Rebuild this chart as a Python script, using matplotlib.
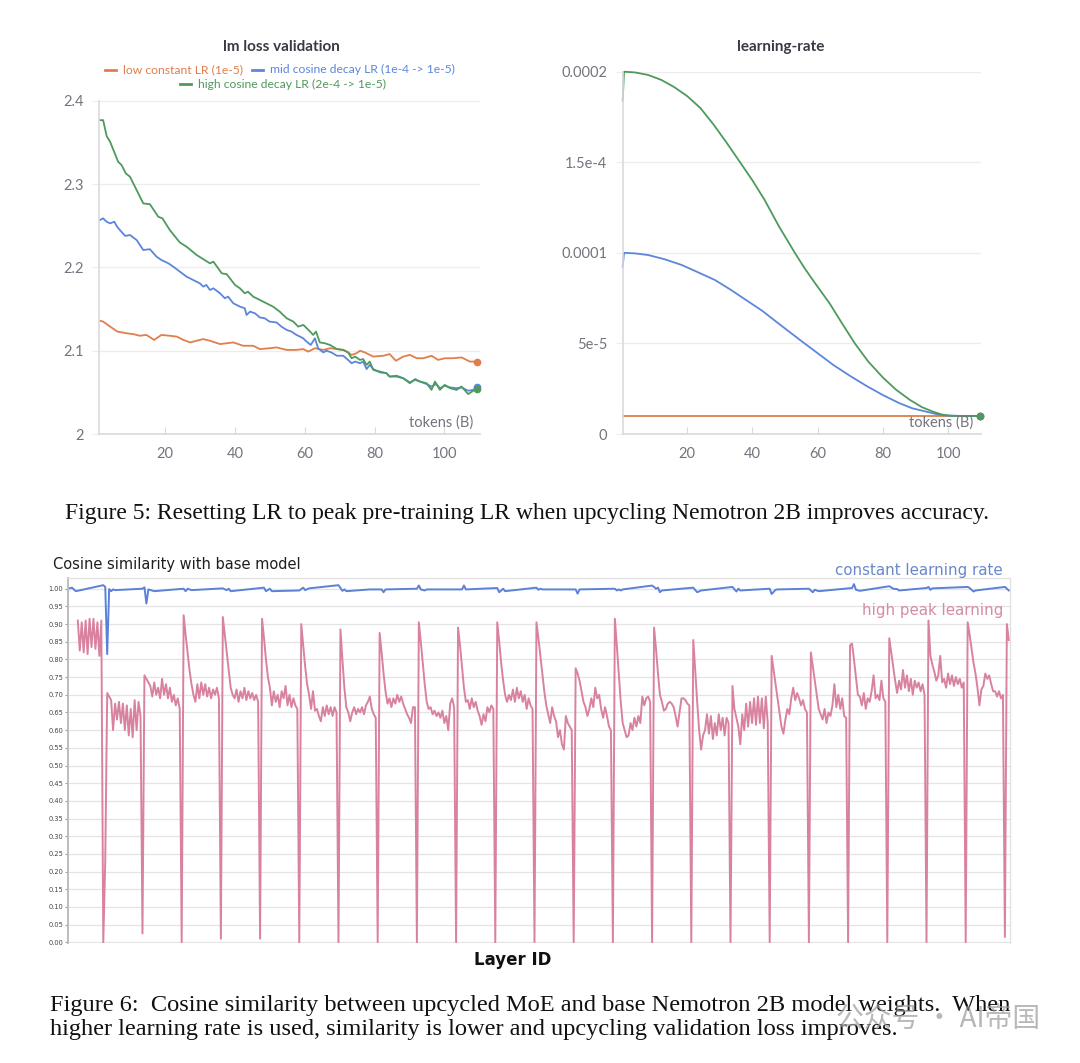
import numpy as np
import matplotlib
matplotlib.use("Agg")
import matplotlib.pyplot as plt
from matplotlib.lines import Line2D

# ---------------- data: lm loss validation (tokens B, loss) ----------------
loss_low = [(1.3, 2.136), (2.2, 2.135), (4.2, 2.129), (6.3, 2.123), (8.9, 2.121), (10.8, 2.120),
            (12.7, 2.118), (14.6, 2.119), (16.8, 2.113), (18.9, 2.119), (21.3, 2.118), (23.3, 2.117),
            (25.2, 2.113), (27.1, 2.110), (29.0, 2.112), (30.9, 2.114), (32.8, 2.112), (35.7, 2.108),
            (37.6, 2.109), (39.5, 2.110), (42.3, 2.106), (45.2, 2.106), (47.1, 2.102), (49.9, 2.103),
            (51.9, 2.104), (54.8, 2.101), (57.6, 2.101), (59.5, 2.102), (61.0, 2.099), (62.9, 2.103),
            (65.3, 2.101), (67.2, 2.103), (69.2, 2.102), (71.0, 2.101), (72.4, 2.098), (73.4, 2.095),
            (74.8, 2.097), (75.8, 2.100), (77.2, 2.098), (79.6, 2.093), (82.5, 2.094), (84.3, 2.096),
            (86.1, 2.088), (88.2, 2.093), (90.1, 2.095), (92.1, 2.091), (94.0, 2.091), (96.3, 2.094),
            (98.2, 2.089), (100.1, 2.091), (102.5, 2.091), (104.9, 2.092), (107.3, 2.087), (109.2, 2.087)]

loss_mid = [(1.3, 2.257), (2.2, 2.259), (3.2, 2.255), (4.2, 2.253), (5.4, 2.255), (6.2, 2.249),
            (7.0, 2.245), (8.5, 2.238), (9.9, 2.239), (11.8, 2.233), (13.7, 2.221), (15.6, 2.222),
            (17.5, 2.213), (18.9, 2.209), (20.9, 2.205), (22.3, 2.201), (24.2, 2.195), (26.1, 2.189),
            (28.0, 2.185), (29.9, 2.181), (30.9, 2.177), (31.8, 2.179), (32.8, 2.173), (33.8, 2.175),
            (35.7, 2.169), (37.1, 2.163), (38.0, 2.165), (39.5, 2.157), (41.4, 2.153), (42.8, 2.151),
            (43.3, 2.143), (44.3, 2.147), (45.7, 2.145), (47.1, 2.140), (48.5, 2.139), (49.9, 2.135),
            (51.9, 2.134), (53.3, 2.129), (54.8, 2.125), (56.2, 2.123), (57.6, 2.119), (58.6, 2.117),
            (59.5, 2.115), (60.5, 2.111), (61.7, 2.107), (62.9, 2.115), (63.8, 2.103), (65.3, 2.098),
            (66.2, 2.100), (67.6, 2.098), (69.2, 2.094), (71.0, 2.094), (72.4, 2.089), (73.4, 2.085),
            (74.4, 2.087), (75.8, 2.085), (76.7, 2.087), (77.7, 2.078), (78.6, 2.083), (79.6, 2.078),
            (81.5, 2.074), (83.4, 2.073), (84.3, 2.069), (86.3, 2.070), (88.2, 2.067), (90.1, 2.062),
            (91.6, 2.065), (93.0, 2.063), (94.9, 2.060), (96.3, 2.057), (97.7, 2.060), (98.7, 2.055),
            (100.1, 2.058), (101.6, 2.056), (103.5, 2.055), (104.9, 2.056), (106.8, 2.052),
            (108.3, 2.053), (109.2, 2.056)]

loss_high = [(1.3, 2.377), (2.2, 2.377), (3.2, 2.358), (4.2, 2.351), (6.5, 2.327), (7.5, 2.323),
             (8.7, 2.313), (9.9, 2.309), (11.8, 2.293), (13.7, 2.277), (15.6, 2.276), (18.0, 2.261),
             (19.2, 2.259), (21.3, 2.245), (24.2, 2.230), (26.1, 2.225), (29.0, 2.215), (30.9, 2.210),
             (32.8, 2.205), (33.8, 2.207), (36.2, 2.193), (37.6, 2.192), (40.0, 2.179), (41.4, 2.175),
             (42.8, 2.169), (43.7, 2.171), (45.2, 2.165), (47.1, 2.161), (49.0, 2.157), (50.9, 2.153),
             (52.8, 2.147), (54.8, 2.139), (56.7, 2.135), (58.1, 2.129), (59.6, 2.131), (61.5, 2.123),
             (62.4, 2.119), (63.2, 2.123), (64.3, 2.110), (65.7, 2.109), (67.2, 2.107), (69.2, 2.102),
             (71.0, 2.101), (72.4, 2.098), (73.4, 2.091), (74.4, 2.093), (75.8, 2.089), (76.7, 2.090),
             (77.7, 2.083), (78.6, 2.087), (79.6, 2.077), (81.5, 2.075), (83.4, 2.073), (84.3, 2.069),
             (86.3, 2.069), (88.2, 2.067), (90.1, 2.061), (91.6, 2.066), (93.0, 2.063), (94.9, 2.061),
             (96.3, 2.053), (97.3, 2.063), (98.7, 2.053), (100.1, 2.059), (101.6, 2.055),
             (103.5, 2.053), (104.9, 2.057), (106.8, 2.048), (108.3, 2.052), (109.2, 2.054)]

legend_labels = ["low constant LR (1e-5)", "mid cosine decay LR (1e-4 -> 1e-5)",
                 "high cosine decay LR (2e-4 -> 1e-5)"]

# ---------------- data: learning-rate ----------------
lr_low = [(0.2, 1.0e-5), (109.7, 1.0e-5)]
lr_mid = [(0.2, 0.924e-4), (0.6, 1.0e-4), (4.0, 0.997e-4), (8.0, 0.988e-4), (13.0, 0.965e-4),
          (18.3, 0.933e-4), (23.0, 0.895e-4), (28.5, 0.85e-4), (33.0, 0.80e-4), (38.0, 0.74e-4),
          (43.0, 0.68e-4), (48.0, 0.61e-4), (54.5, 0.52e-4), (59.7, 0.45e-4), (64.8, 0.381e-4),
          (70.0, 0.32e-4), (75.0, 0.265e-4), (80.0, 0.215e-4), (85.2, 0.169e-4), (89.0, 0.142e-4),
          (93.4, 0.123e-4), (97.0, 0.107e-4), (99.5, 0.102e-4), (103.0, 0.10e-4), (109.7, 0.10e-4)]
lr_high = [(0.2, 1.84e-4), (0.6, 2.0e-4), (4.0, 1.996e-4), (8.0, 1.982e-4), (12.0, 1.955e-4),
           (16.0, 1.915e-4), (20.0, 1.865e-4), (24.0, 1.80e-4), (28.0, 1.71e-4), (32.0, 1.61e-4),
           (36.2, 1.50e-4), (40.0, 1.40e-4), (43.8, 1.29e-4), (48.0, 1.15e-4), (53.0, 1.00e-4),
           (56.0, 0.915e-4), (59.1, 0.835e-4), (63.7, 0.72e-4), (67.5, 0.61e-4), (71.4, 0.50e-4),
           (75.5, 0.40e-4), (80.1, 0.31e-4), (84.0, 0.245e-4), (88.3, 0.188e-4), (92.0, 0.148e-4),
           (95.4, 0.123e-4), (98.0, 0.108e-4), (100.5, 0.101e-4), (103.0, 0.10e-4), (109.7, 0.10e-4)]
lr_ticks = [0, 5e-5, 1e-4, 1.5e-4, 2e-4]
lr_ticklabels = ["0", "5e-5", "0.0001", "1.5e-4", "0.0002"]

# ---------------- data: cosine similarity per parameter tensor ----------------
high_first_idx = 5
high_pre = [0.91, 0.825, 0.905, 0.82, 0.91, 0.815, 0.915, 0.835, 0.915, 0.83, 0.905, 0.81, 0.91]
high_layers = [
    [0.0, 0.23, 0.705, 0.695, 0.685, 0.60, 0.675, 0.63, 0.68, 0.62, 0.675, 0.60, 0.67, 0.585, 0.66, 0.58, 0.685, 0.60, 0.68, 0.64],
    [0.025, 0.755, 0.745, 0.735, 0.725, 0.695, 0.735, 0.70, 0.72, 0.69, 0.745, 0.70, 0.73, 0.69, 0.72, 0.68, 0.70, 0.67, 0.69, 0.66],
    [0.0, 0.925, 0.87, 0.82, 0.77, 0.73, 0.70, 0.68, 0.73, 0.69, 0.735, 0.70, 0.73, 0.695, 0.72, 0.69, 0.715, 0.70, 0.72, 0.69],
    [0.01, 0.92, 0.87, 0.82, 0.77, 0.72, 0.70, 0.69, 0.715, 0.68, 0.71, 0.69, 0.72, 0.685, 0.71, 0.69, 0.705, 0.685, 0.70, 0.68],
    [0.01, 0.915, 0.86, 0.80, 0.75, 0.72, 0.67, 0.71, 0.68, 0.70, 0.665, 0.71, 0.69, 0.725, 0.67, 0.70, 0.665, 0.69, 0.67, 0.66],
    [0.0, 0.90, 0.84, 0.78, 0.73, 0.70, 0.66, 0.71, 0.655, 0.66, 0.64, 0.625, 0.665, 0.64, 0.67, 0.645, 0.665, 0.64, 0.665, 0.65],
    [0.0, 0.885, 0.80, 0.72, 0.665, 0.65, 0.625, 0.65, 0.665, 0.645, 0.66, 0.65, 0.665, 0.645, 0.67, 0.68, 0.695, 0.66, 0.645, 0.635],
    [0.0, 0.875, 0.82, 0.76, 0.71, 0.675, 0.69, 0.665, 0.69, 0.675, 0.70, 0.68, 0.695, 0.675, 0.66, 0.645, 0.635, 0.62, 0.665, 0.665],
    [0.0, 0.905, 0.85, 0.79, 0.73, 0.68, 0.66, 0.665, 0.645, 0.655, 0.64, 0.65, 0.635, 0.655, 0.62, 0.64, 0.60, 0.675, 0.69, 0.665],
    [0.0, 0.89, 0.84, 0.78, 0.72, 0.68, 0.685, 0.66, 0.69, 0.665, 0.68, 0.655, 0.64, 0.615, 0.645, 0.625, 0.665, 0.65, 0.67, 0.66],
    [0.0, 0.905, 0.85, 0.79, 0.74, 0.70, 0.68, 0.70, 0.685, 0.715, 0.68, 0.72, 0.69, 0.71, 0.68, 0.70, 0.66, 0.69, 0.67, 0.66],
    [0.0, 0.905, 0.86, 0.81, 0.76, 0.71, 0.67, 0.645, 0.62, 0.665, 0.64, 0.625, 0.58, 0.60, 0.56, 0.545, 0.64, 0.62, 0.61, 0.60],
    [0.0, 0.775, 0.76, 0.74, 0.71, 0.68, 0.665, 0.64, 0.66, 0.69, 0.665, 0.72, 0.69, 0.70, 0.66, 0.635, 0.665, 0.64, 0.61, 0.60],
    [0.0, 0.915, 0.84, 0.76, 0.68, 0.62, 0.60, 0.58, 0.585, 0.62, 0.60, 0.635, 0.61, 0.64, 0.62, 0.695, 0.67, 0.69, 0.695, 0.68],
    [0.0, 0.89, 0.83, 0.76, 0.70, 0.68, 0.655, 0.66, 0.675, 0.68, 0.675, 0.665, 0.64, 0.61, 0.65, 0.69, 0.69, 0.685, 0.675, 0.67],
    [0.0, 0.855, 0.77, 0.68, 0.60, 0.545, 0.585, 0.60, 0.645, 0.59, 0.64, 0.575, 0.62, 0.585, 0.645, 0.60, 0.635, 0.585, 0.635, 0.62],
    [0.0, 0.725, 0.66, 0.635, 0.61, 0.56, 0.645, 0.60, 0.675, 0.61, 0.68, 0.62, 0.69, 0.615, 0.695, 0.62, 0.69, 0.605, 0.695, 0.62],
    [0.0, 0.81, 0.77, 0.73, 0.69, 0.65, 0.61, 0.59, 0.63, 0.66, 0.645, 0.69, 0.72, 0.685, 0.705, 0.69, 0.67, 0.685, 0.66, 0.65],
    [0.0, 0.82, 0.78, 0.74, 0.70, 0.66, 0.645, 0.63, 0.66, 0.62, 0.65, 0.64, 0.67, 0.73, 0.665, 0.70, 0.66, 0.69, 0.64, 0.635],
    [0.0, 0.84, 0.845, 0.80, 0.75, 0.70, 0.695, 0.67, 0.705, 0.66, 0.69, 0.68, 0.71, 0.755, 0.69, 0.70, 0.685, 0.74, 0.69, 0.68],
    [0.0, 0.86, 0.82, 0.78, 0.74, 0.705, 0.74, 0.715, 0.77, 0.72, 0.755, 0.71, 0.745, 0.70, 0.74, 0.72, 0.735, 0.71, 0.73, 0.70],
    [0.0, 0.91, 0.81, 0.785, 0.765, 0.74, 0.755, 0.81, 0.735, 0.745, 0.72, 0.76, 0.73, 0.755, 0.725, 0.75, 0.73, 0.745, 0.72, 0.735],
    [0.0, 0.905, 0.87, 0.83, 0.79, 0.76, 0.72, 0.67, 0.715, 0.725, 0.76, 0.745, 0.755, 0.73, 0.71, 0.71, 0.695, 0.71, 0.69, 0.70],
    [0.015, 0.90, 0.855],
]

const_points = [(0, 1.0), (2, 1.003), (4, 0.993), (18, 1.01), (19, 1.005), (20, 0.815), (21, 0.999),
                (22, 0.993), (23, 0.998), (24, 0.996), (38, 1.0), (39, 1.004), (40, 0.958), (41, 0.998),
                (44, 0.993), (59, 1.0), (60, 0.993), (61, 1.0), (63, 0.996), (79, 1.001), (81, 0.996),
                (82, 1.0), (83, 0.993), (100, 1.003), (101, 0.993), (103, 1.0), (104, 0.993),
                (118, 0.995), (120, 1.003), (121, 0.996), (123, 1.001), (138, 1.01), (140, 0.994),
                (141, 0.998), (142, 0.993), (154, 0.998), (160, 0.998), (161, 0.99), (162, 0.998),
                (178, 1.0), (179, 1.009), (180, 0.998), (182, 0.995), (183, 0.998), (201, 0.998),
                (202, 1.009), (203, 0.998), (219, 1.002), (220, 0.99), (222, 1.0), (223, 0.993),
                (239, 1.003), (240, 0.997), (241, 1.0), (242, 0.998), (259, 0.998), (260, 0.986),
                (261, 0.998), (279, 1.0), (280, 0.995), (281, 0.998), (282, 0.995), (283, 0.998),
                (298, 1.009), (299, 1.005), (300, 1.0), (301, 1.003), (302, 0.99), (303, 0.995),
                (319, 1.003), (321, 0.99), (323, 0.995), (339, 1.005), (341, 0.992), (342, 1.0),
                (343, 0.995), (358, 1.0), (359, 0.985), (361, 0.997), (362, 0.998), (378, 1.0),
                (380, 0.99), (381, 0.997), (383, 0.993), (400, 1.002), (401, 1.013), (402, 0.997),
                (404, 0.994), (419, 1.007), (421, 1.0), (423, 0.999), (424, 0.995), (438, 1.002),
                (439, 1.005), (440, 0.997), (441, 1.001), (459, 1.005), (460, 1.002), (462, 0.992),
                (463, 0.995), (478, 1.005), (480, 0.995)]

# ---------------- style ----------------
C_ORANGE = "#E07E4C"
C_BLUE = "#5C86DB"
C_GREEN = "#4E9A5C"
C_PINK = "#D9829F"
C_CONST = "#5B82D8"
GRAY_TXT = "#74747E"
GRID = "#EDEDF1"
SPINE = "#D9D9DF"
WB_FONT = ["Lato", "DejaVu Sans"]

W, H = 1080, 1063
fig = plt.figure(figsize=(W / 100, H / 100), dpi=100)


def px_axes(l, t, r, b):
    return fig.add_axes([l / W, 1 - b / H, (r - l) / W, (b - t) / H])


def ftext(x, y, s, **kw):
    return fig.text(x / W, 1 - y / H, s, **kw)


def wb_style(ax):
    for side in ("top", "right"):
        ax.spines[side].set_visible(False)
    for side in ("left", "bottom"):
        ax.spines[side].set_color(SPINE)
        ax.spines[side].set_linewidth(1.2)
    ax.grid(axis="y", color=GRID, lw=1.0)
    ax.set_axisbelow(True)
    ax.tick_params(axis="x", direction="in", length=5, color=SPINE, labelcolor=GRAY_TXT,
                   labelsize=10.5, pad=9)
    ax.tick_params(axis="y", direction="out", length=5, color=GRID, labelcolor=GRAY_TXT,
                   labelsize=10.5, pad=6)
    for lab in ax.get_xticklabels() + ax.get_yticklabels():
        lab.set_family(WB_FONT)


def draw_series(ax, pts, color):
    x, y = zip(*pts)
    ax.plot(x, y, color=color, lw=1.3, clip_on=False)
    ax.plot(x[-1], y[-1], "o", color=color, ms=4.5, clip_on=False)


# ---- lm loss validation ----
ax1 = px_axes(99.3, 101, 480, 434)
for pts, c in [(loss_low, C_ORANGE), (loss_mid, C_BLUE), (loss_high, C_GREEN)]:
    draw_series(ax1, pts, c)
ax1.set_xlim(1.1, 110.2)
ax1.set_ylim(2.0, 2.4)
ax1.set_xticks([20, 40, 60, 80, 100])
ax1.set_yticks([2.0, 2.1, 2.2, 2.3, 2.4])
ax1.set_yticklabels(["2", "2.1", "2.2", "2.3", "2.4"])
wb_style(ax1)
ftext(281, 47, "lm loss validation", ha="center", va="center", fontsize=11,
      fontweight="bold", color="#3A3A44", family=WB_FONT)
ftext(473, 423, "tokens (B)", ha="right", va="center", fontsize=10.5, color=GRAY_TXT, family=WB_FONT)

# manual legend (two rows, W&B style)
legend_rows = [(105, 69.5, 0, C_ORANGE), (252, 69.5, 1, C_BLUE), (180, 84, 2, C_GREEN)]
for x0, y0, i, c in legend_rows:
    fig.add_artist(Line2D([x0 / W, (x0 + 11) / W], [1 - y0 / H, 1 - y0 / H], color=c, lw=2))
    ftext(x0 + 18, y0, legend_labels[i], ha="left", va="center", fontsize=8.7, color=c,
          family=WB_FONT)

# ---- learning-rate ----
ax2 = px_axes(622.7, 71.7, 980.7, 434)
for pts, c in [(lr_low, C_ORANGE), (lr_mid, C_BLUE), (lr_high, C_GREEN)]:
    draw_series(ax2, pts, c)
ax2.set_xlim(0.2, 110)
ax2.set_ylim(0, 2e-4)
ax2.set_xticks([20, 40, 60, 80, 100])
ax2.set_yticks(lr_ticks)
ax2.set_yticklabels(lr_ticklabels)
wb_style(ax2)
ftext(781, 47, "learning-rate", ha="center", va="center", fontsize=11,
      fontweight="bold", color="#3A3A44", family=WB_FONT)
ftext(973, 423, "tokens (B)", ha="right", va="center", fontsize=10.5, color=GRAY_TXT, family=WB_FONT)

# ---- cosine similarity ----
high_vals = list(high_pre)
for layer in high_layers:
    high_vals += layer
high_x = np.arange(high_first_idx, high_first_idx + len(high_vals))
const_x, const_y = zip(*const_points)

ax3 = px_axes(68, 578, 1010, 943)
ax3.plot(const_x, const_y, color=C_CONST, lw=1.4)
ax3.plot(high_x, high_vals, color=C_PINK, lw=1.4)
ax3.set_xlim(0, 480.6)
ax3.set_ylim(-0.002, 1.0303)
yt = np.round(np.arange(0, 1.0001, 0.05), 2)
ax3.set_yticks(yt)
ax3.set_yticklabels([f"{v:.2f}" for v in yt])
ax3.set_xticks([])
ax3.grid(axis="y", color="#E4E4E6", lw=0.9)
ax3.set_axisbelow(True)
ax3.tick_params(axis="y", length=2.5, width=0.8, color="#999999", labelsize=4.8,
                labelcolor="#444444", pad=1)
ax3.spines["bottom"].set_visible(False)
ax3.spines["left"].set_color("#BDBDBD")
ax3.spines["left"].set_linewidth(1.4)
for side in ("top", "right"):
    ax3.spines[side].set_color("#E2E2E2")
    ax3.spines[side].set_linewidth(1.0)

ftext(53, 565, "Cosine similarity with base model", ha="left", va="center", fontsize=10.5,
      color="#1E1E1E", family="DejaVu Sans")
ftext(1003, 570, "constant learning rate", ha="right", va="center", fontsize=10.8,
      color="#6B86CB", family="DejaVu Sans")
ftext(1003, 610, "high peak learning", ha="right", va="center", fontsize=10.8,
      color="#D68BA7", family="DejaVu Sans")
ftext(513, 960, "Layer ID", ha="center", va="center", fontsize=12, fontweight="bold",
      color="#111111", family=["Liberation Sans Narrow", "DejaVu Sans"])

# ---- captions (serif, fitted to the printed line widths) ----
renderer = fig.canvas.get_renderer()


def fit_line(x0, y, s, target_w, size=15):
    t = ftext(x0, y, s, ha="left", va="center", fontsize=size, color="#111111",
              family="Liberation Serif")
    w = t.get_window_extent(renderer).width
    t.set_fontsize(size * target_w / w)
    return t


fit_line(65, 514, "Figure 5: Resetting LR to peak pre-training LR when upcycling Nemotron 2B improves accuracy.", 930)
cap = fit_line(50, 1005, "Figure 6:  Cosine similarity between upcycled MoE and base Nemotron 2B model weights.  When", 962)
ftext(50, 1030, "higher learning rate is used, similarity is lower and upcycling validation loss improves.",
      ha="left", va="center", fontsize=cap.get_fontsize(), color="#111111", family="Liberation Serif")

# watermark (overlaps the caption, as in the source)
ftext(836, 1020, "公众号 · AI帝国", ha="left", va="center", fontsize=20, color="#9A9A9A", alpha=0.7,
      family=["Noto Sans CJK SC", "DejaVu Sans"])

fig.savefig("out.png", dpi=100, facecolor="white")
